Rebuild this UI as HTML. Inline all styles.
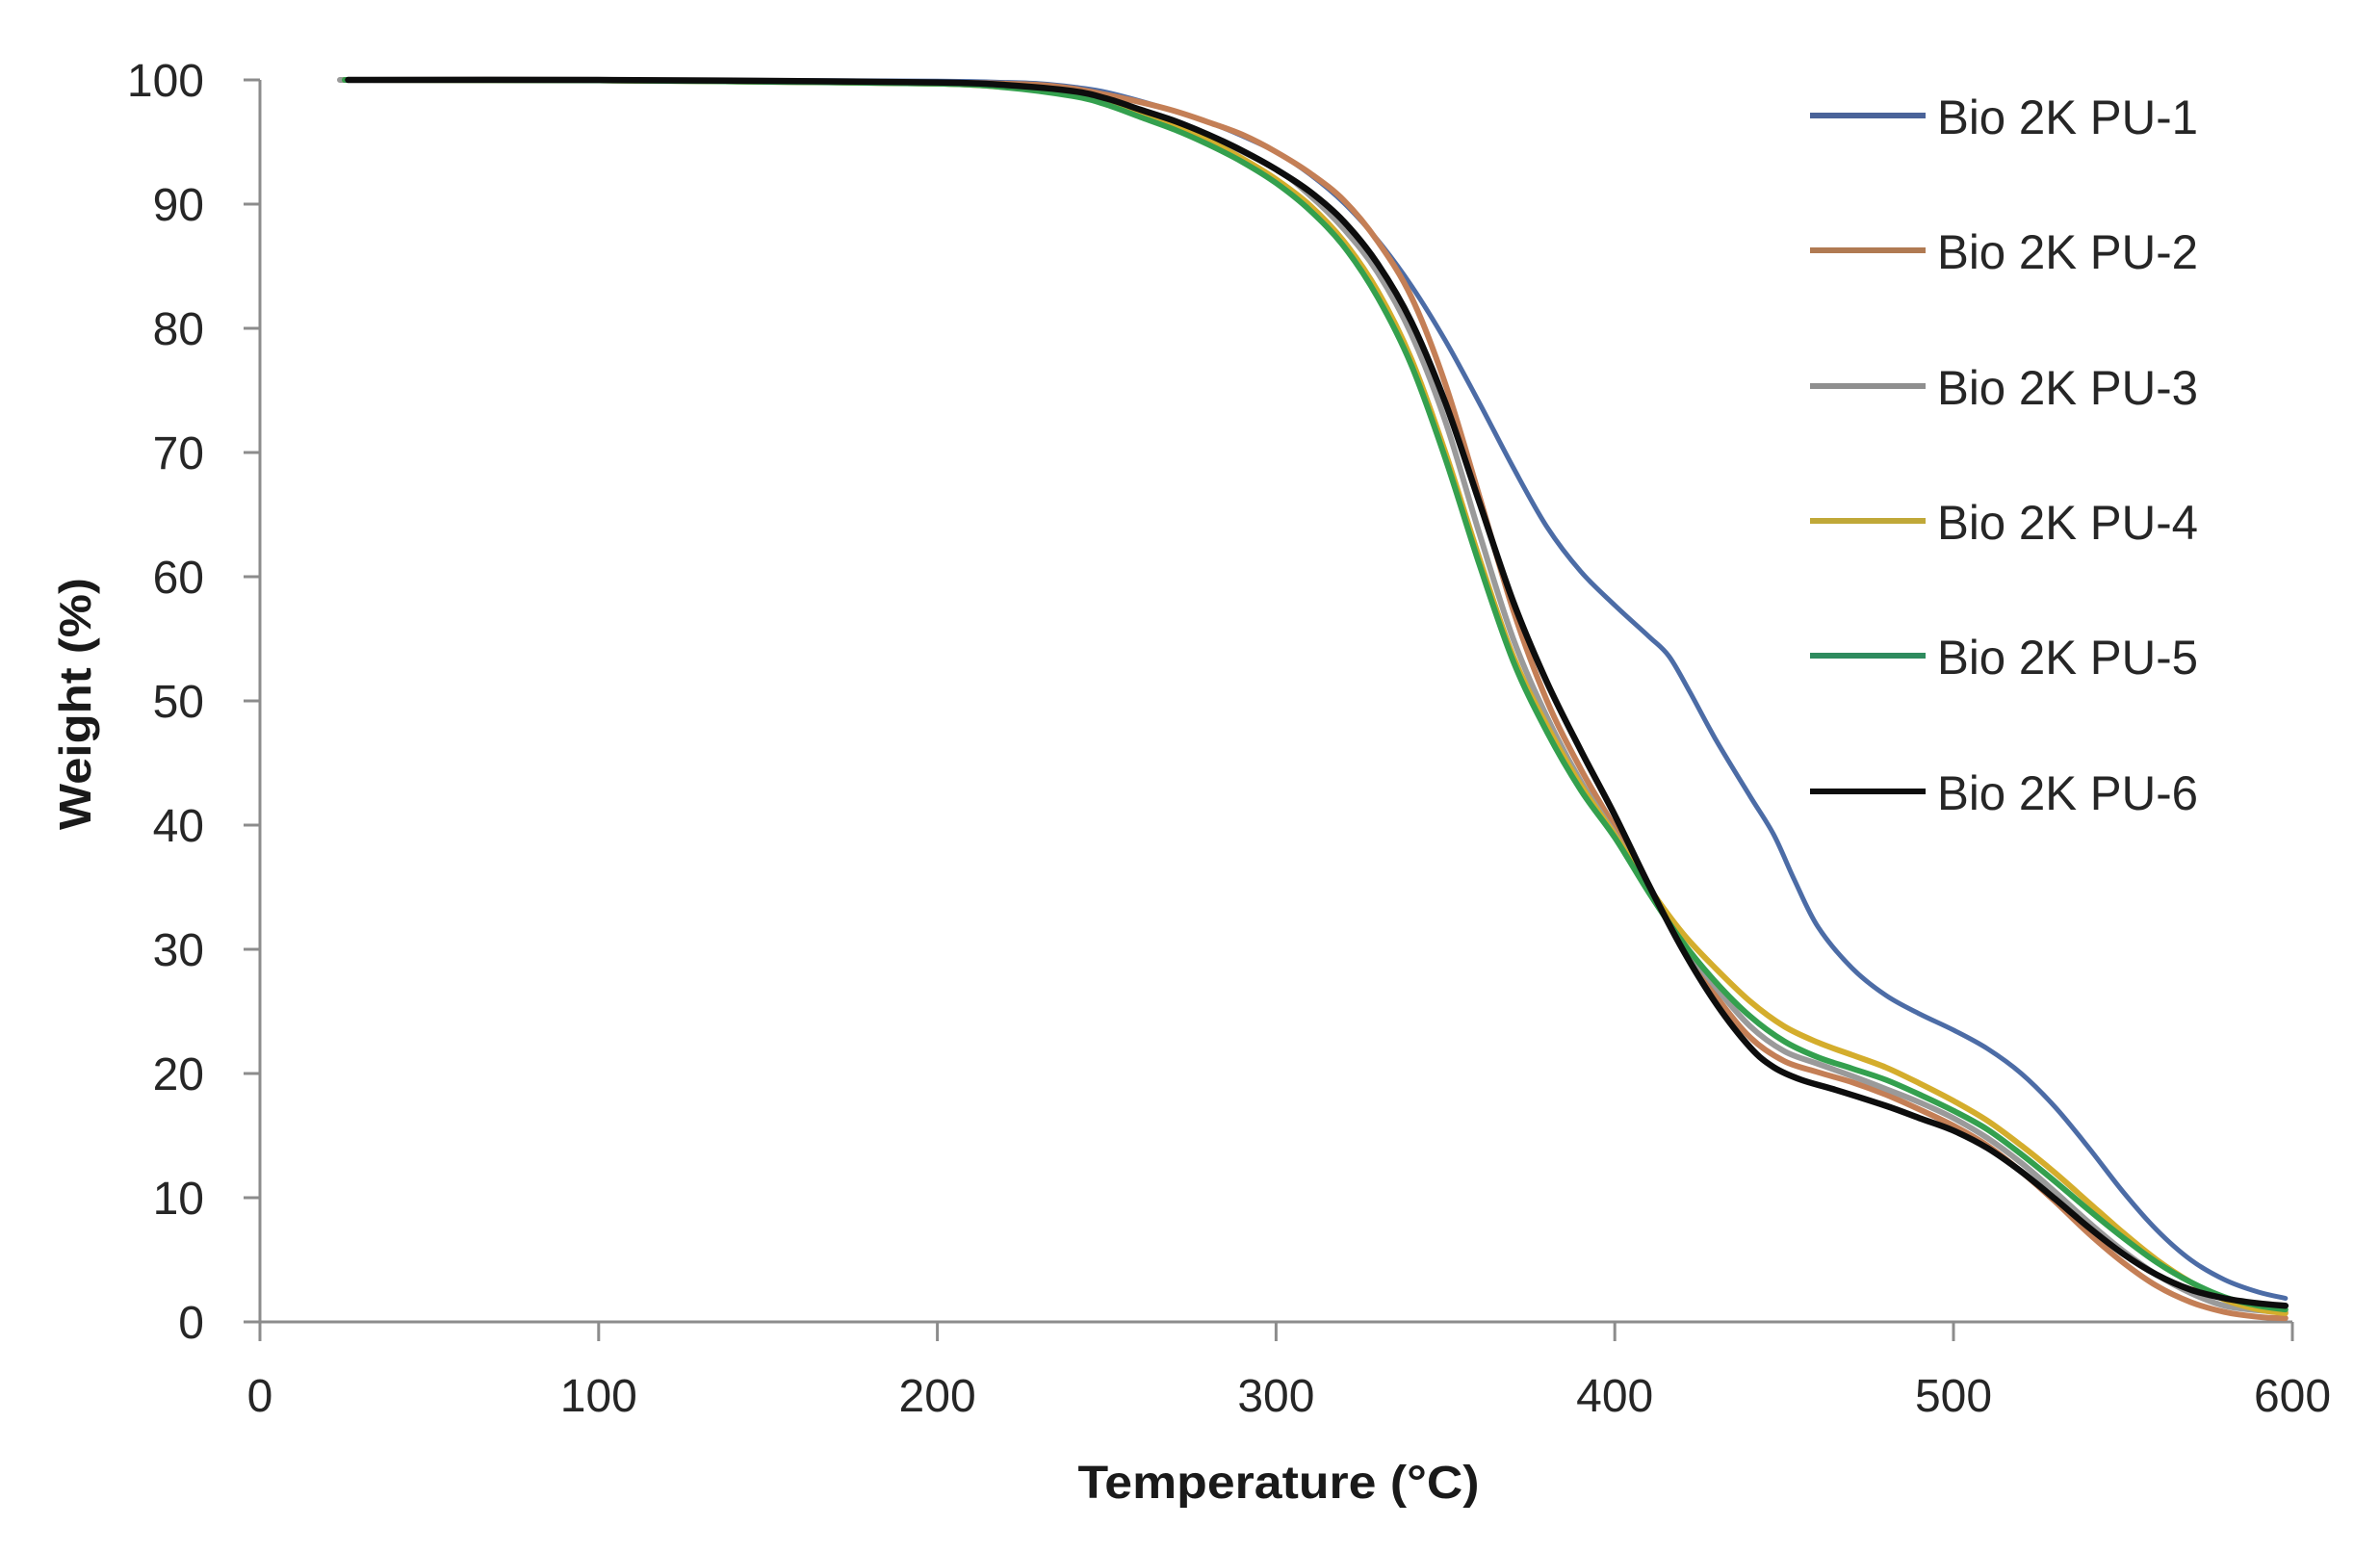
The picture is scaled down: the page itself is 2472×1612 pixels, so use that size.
<!DOCTYPE html>
<html>
<head>
<meta charset="utf-8">
<style>
html,body{margin:0;padding:0;background:#fff;}
svg{display:block;}
text{font-family:"Liberation Sans",Arial,sans-serif;}
</style>
</head>
<body>
<svg id="chart" width="2472" height="1612" viewBox="0 0 2472 1612" xmlns="http://www.w3.org/2000/svg">
<rect width="2472" height="1612" fill="#ffffff"/>

<!-- axes -->
<g stroke="#8c8c8c" stroke-width="3" fill="none">
  <line x1="270" y1="83" x2="270" y2="1373"/>
  <line x1="253" y1="1373" x2="2381" y2="1373"/>
  <line x1="253" y1="83" x2="270" y2="83"/>
  <line x1="253" y1="212" x2="270" y2="212"/>
  <line x1="253" y1="341" x2="270" y2="341"/>
  <line x1="253" y1="470" x2="270" y2="470"/>
  <line x1="253" y1="599" x2="270" y2="599"/>
  <line x1="253" y1="728" x2="270" y2="728"/>
  <line x1="253" y1="857" x2="270" y2="857"/>
  <line x1="253" y1="986" x2="270" y2="986"/>
  <line x1="253" y1="1115" x2="270" y2="1115"/>
  <line x1="253" y1="1244" x2="270" y2="1244"/>
  <line x1="270" y1="1373" x2="270" y2="1393"/>
  <line x1="621.8" y1="1373" x2="621.8" y2="1393"/>
  <line x1="973.6" y1="1373" x2="973.6" y2="1393"/>
  <line x1="1325.4" y1="1373" x2="1325.4" y2="1393"/>
  <line x1="1677.2" y1="1373" x2="1677.2" y2="1393"/>
  <line x1="2029" y1="1373" x2="2029" y2="1393"/>
  <line x1="2381" y1="1373" x2="2381" y2="1393"/>
</g>

<!-- y tick labels -->
<g font-size="48" fill="#262626" text-anchor="end">
  <text x="212" y="100">100</text>
  <text x="212" y="229">90</text>
  <text x="212" y="358">80</text>
  <text x="212" y="487">70</text>
  <text x="212" y="616">60</text>
  <text x="212" y="745">50</text>
  <text x="212" y="874">40</text>
  <text x="212" y="1003">30</text>
  <text x="212" y="1132">20</text>
  <text x="212" y="1261">10</text>
  <text x="212" y="1390">0</text>
</g>

<!-- x tick labels -->
<g font-size="48" fill="#262626" text-anchor="middle">
  <text x="270" y="1466">0</text>
  <text x="621.8" y="1466">100</text>
  <text x="973.6" y="1466">200</text>
  <text x="1325.4" y="1466">300</text>
  <text x="1677.2" y="1466">400</text>
  <text x="2029" y="1466">500</text>
  <text x="2381" y="1466">600</text>
</g>

<!-- axis titles -->
<text x="1328" y="1556" font-size="48" font-weight="bold" fill="#1a1a1a" text-anchor="middle" textLength="417" lengthAdjust="spacingAndGlyphs">Temperature (°C)</text>
<text transform="translate(94,731) rotate(-90)" x="0" y="0" font-size="46" font-weight="bold" fill="#1a1a1a" text-anchor="middle" textLength="262" lengthAdjust="spacingAndGlyphs">Weight (%)</text>

<!-- series -->
<g fill="none" stroke-linejoin="round" stroke-linecap="round">
  <!-- PU-1 blue -->
  <polyline class="s" stroke="#4c6ca6" stroke-width="5" points="358,83 621.8,83 797.7,83.5 973.6,84.3 1044,85.6 1079.1,86.9 1114.3,90.4 1149.5,95.9 1202.3,110.1 1255,126.9 1290.2,141.1 1325.4,157.8 1360.6,181 1395.8,210.7 1430.9,249.4 1466.1,297.1 1501.3,353.9 1536.5,418.4 1571.7,485.5 1606.8,547.4 1642,593.8 1677.2,628.7 1712.4,660.9 1733.5,681.6 1754.6,717.7 1782.7,769.3 1817.9,827.3 1842.5,867.3 1863.7,913.8 1888.3,962.8 1923.5,1005.4 1958.6,1033.7 1993.8,1053.1 2029,1069.9 2064.2,1089.2 2099.4,1115 2134.5,1149.8 2169.7,1192.4 2204.9,1237.6 2240.1,1277.5 2275.3,1308.5 2310.4,1329.1 2345.6,1342 2373.8,1348.5"/>
  <!-- PU-2 orange -->
  <polyline class="s" stroke="#c47f56" stroke-width="6" points="358,83 621.8,83 797.7,84.3 973.6,85.6 1044,86.9 1079.1,88.2 1114.3,92 1149.5,98.5 1184.7,106.2 1219.9,115.3 1255,126.9 1290.2,139.8 1325.4,157.8 1360.6,179.8 1395.8,208.1 1430.9,250.7 1466.1,308.8 1501.3,399.1 1536.5,515.2 1571.7,633.8 1606.8,728 1642,798.9 1677.2,859.6 1712.4,921.5 1747.6,982.1 1782.7,1035 1817.9,1077.6 1853.1,1102.1 1888.3,1113.7 1923.5,1124 1958.6,1136.9 1993.8,1152.4 2029,1169.2 2064.2,1189.8 2099.4,1216.9 2134.5,1247.9 2169.7,1281.4 2204.9,1311.1 2240.1,1335.6 2275.3,1352.4 2310.4,1362.7 2345.6,1367.8 2373.8,1369.1"/>
  <!-- PU-3 gray -->
  <polyline class="s" stroke="#9a9a9a" stroke-width="6" points="353,83 621.8,83.5 797.7,85 973.6,86.9 1044,89.5 1114.3,95.9 1184.7,115.3 1255,141.1 1325.4,175.9 1360.6,203 1395.8,237.8 1430.9,283 1466.1,347.5 1501.3,437.8 1536.5,553.9 1571.7,663.5 1606.8,744.8 1642,811.9 1677.2,866 1712.4,922 1747.6,979.6 1782.7,1026 1817.9,1066 1853.1,1091.8 1888.3,1105 1923.5,1117.6 1958.6,1131 1993.8,1145 2029,1161.4 2064.2,1182 2099.4,1207.9 2134.5,1238 2169.7,1269.8 2204.9,1299 2240.1,1324 2275.3,1343 2310.4,1356.2 2345.6,1361 2373.8,1362.7"/>
  <!-- PU-4 yellow -->
  <polyline class="s" stroke="#d4ad2c" stroke-width="6" points="358,83 621.8,83.5 797.7,85 973.6,86.9 1044,90.5 1114.3,97.2 1149.5,106.5 1184.7,117.8 1219.9,131 1255,146.2 1290.2,164.5 1325.4,186.2 1360.6,213.3 1395.8,250.7 1430.9,302.3 1466.1,373.3 1501.3,470 1536.5,579.7 1571.7,681.6 1606.8,753.8 1642,815.7 1677.2,867.3 1712.4,921.5 1747.6,969.2 1782.7,1006.6 1817.9,1040.2 1853.1,1066 1888.3,1082.8 1923.5,1095.7 1958.6,1108.6 1993.8,1125.3 2029,1143.4 2064.2,1164 2099.4,1189.8 2134.5,1218.2 2169.7,1249.2 2204.9,1280.1 2240.1,1308.5 2275.3,1331.7 2310.4,1349.8 2345.6,1360.1 2373.8,1364"/>
  <!-- PU-5 green -->
  <polyline class="s" stroke="#34a04e" stroke-width="6" points="358,83 621.8,83.5 797.7,85 973.6,86.9 1044,90.7 1114.3,99.8 1149.5,108.8 1184.7,121.7 1219.9,134.6 1255,150.1 1290.2,168.1 1325.4,190.1 1360.6,218.5 1395.8,255.9 1430.9,308.8 1466.1,379.7 1501.3,476.5 1536.5,586.1 1571.7,686.7 1606.8,760.3 1642,820.9 1677.2,869.9 1712.4,926.7 1747.6,978.3 1782.7,1020.8 1817.9,1055.7 1853.1,1081.5 1888.3,1098.2 1923.5,1109.8 1958.6,1121.5 1993.8,1136.9 2029,1153.7 2064.2,1173.1 2099.4,1198.9 2134.5,1227.2 2169.7,1256.9 2204.9,1285.3 2240.1,1311.1 2275.3,1331.7 2310.4,1347.2 2345.6,1356.2 2373.8,1360.1"/>
  <!-- PU-6 black -->
  <polyline class="s" stroke="#0d0d0d" stroke-width="6.5" points="361.5,83 621.8,83 797.7,84 973.6,85.6 1044,88.2 1114.3,94.6 1149.5,102.4 1184.7,114 1219.9,125.6 1255,139.8 1290.2,156.5 1325.4,175.9 1360.6,199.1 1395.8,230.1 1430.9,273.9 1466.1,334.5 1501.3,418.4 1536.5,521.6 1571.7,624.8 1606.8,708.7 1642,779.6 1677.2,846.7 1712.4,918.9 1747.6,986 1782.7,1042.8 1817.9,1087.9 1842.5,1108.6 1870.7,1121.5 1905.9,1131.8 1958.6,1148.5 1993.8,1161.4 2029,1174.3 2064.2,1192.4 2099.4,1216.9 2134.5,1245.3 2169.7,1275 2204.9,1302.1 2240.1,1324 2275.3,1339.5 2310.4,1348.5 2345.6,1353.7 2373.8,1356.2"/>
</g>

<!-- legend -->
<g stroke-width="6" stroke-linecap="butt">
  <line x1="1880" y1="120" x2="2000" y2="120" stroke="#4a6399"/>
  <line x1="1880" y1="260" x2="2000" y2="260" stroke="#b07a52"/>
  <line x1="1880" y1="401" x2="2000" y2="401" stroke="#8f8f8f"/>
  <line x1="1880" y1="541" x2="2000" y2="541" stroke="#c0a838"/>
  <line x1="1880" y1="681" x2="2000" y2="681" stroke="#2e8b5e"/>
  <line x1="1880" y1="822" x2="2000" y2="822" stroke="#0d0d0d"/>
</g>
<g font-size="50" fill="#262626">
  <text x="2012" y="139" textLength="271" lengthAdjust="spacingAndGlyphs">Bio 2K PU-1</text>
  <text x="2012" y="279" textLength="271" lengthAdjust="spacingAndGlyphs">Bio 2K PU-2</text>
  <text x="2012" y="420" textLength="271" lengthAdjust="spacingAndGlyphs">Bio 2K PU-3</text>
  <text x="2012" y="560" textLength="271" lengthAdjust="spacingAndGlyphs">Bio 2K PU-4</text>
  <text x="2012" y="700" textLength="271" lengthAdjust="spacingAndGlyphs">Bio 2K PU-5</text>
  <text x="2012" y="841" textLength="271" lengthAdjust="spacingAndGlyphs">Bio 2K PU-6</text>
</g>
</svg>
<script>
(function(){
  var NS='http://www.w3.org/2000/svg';
  var pls=document.querySelectorAll('polyline.s');
  for(var k=0;k<pls.length;k++){
    var pl=pls[k];
    var raw=pl.getAttribute('points').trim().split(/\s+/);
    var pts=[];
    for(var j=0;j<raw.length;j++){var a=raw[j].split(',');pts.push([+a[0],+a[1]]);}
    var d='M'+pts[0][0]+','+pts[0][1];
    for(var i=0;i<pts.length-1;i++){
      var p0=pts[i-1]||pts[i],p1=pts[i],p2=pts[i+1],p3=pts[i+2]||pts[i+1];
      var c1x=p1[0]+(p2[0]-p0[0])/6,c1y=p1[1]+(p2[1]-p0[1])/6;
      var c2x=p2[0]-(p3[0]-p1[0])/6,c2y=p2[1]-(p3[1]-p1[1])/6;
      d+=' C'+c1x.toFixed(1)+','+c1y.toFixed(1)+' '+c2x.toFixed(1)+','+c2y.toFixed(1)+' '+p2[0]+','+p2[1];
    }
    var path=document.createElementNS(NS,'path');
    path.setAttribute('d',d);
    path.setAttribute('stroke',pl.getAttribute('stroke'));
    path.setAttribute('stroke-width',pl.getAttribute('stroke-width'));
    path.setAttribute('fill','none');
    pl.parentNode.replaceChild(path,pl);
  }
})();
</script>
</body>
</html>
